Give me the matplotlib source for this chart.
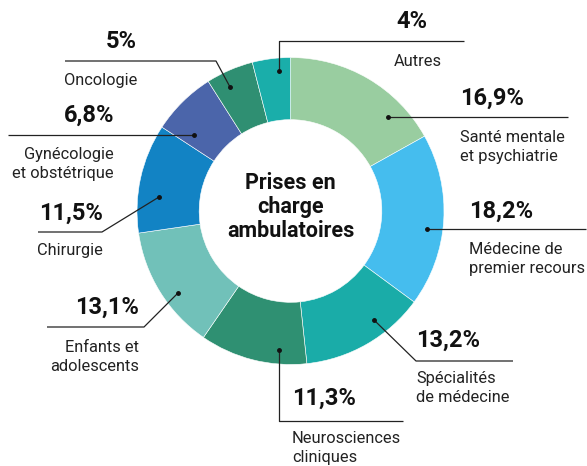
import matplotlib.pyplot as plt
from matplotlib import font_manager

# Data
categories = ['Santé mentale\net psychiatrie', 'Médecine de\npremier recours',
              'Spécialités\nde médecine', 'Neurosciences\ncliniques',
              'Enfants et\nadolescents', 'Chirurgie',
              'Gynécologie\net obstétrique', 'Oncologie', 'Autres']
values = [16.9, 18.2, 13.2, 11.3, 13.1, 11.5, 6.8, 5, 4]
value_labels = ['16,9%', '18,2%', '13,2%', '11,3%', '13,1%', '11,5%', '6,8%', '5%', '4%']
colors = ['#99cda0', '#45bdee', '#1aaca8', '#2f9072', '#71c1b9',
          '#1283c4', '#4b65aa', '#2f8f72', '#1aaeaa']

names = {f.name for f in font_manager.fontManager.ttflist}
font = 'Liberation Sans Narrow' if 'Liberation Sans Narrow' in names else 'Roboto'
plt.rcParams['font.family'] = [font, 'DejaVu Sans']

fig = plt.figure(figsize=(5.87, 4.66), dpi=100)
ax = fig.add_axes([0, 0, 1, 1])

cx, cy, r = 290.5, 211, 153.5
ax.pie(values, colors=colors, center=(cx, cy), radius=r, startangle=-90,
       counterclock=True, wedgeprops=dict(width=r * 0.405, edgecolor='white', linewidth=0.4),
       frame=True)
ax.set_xlim(0, 587)
ax.set_ylim(466, 0)
ax.set_aspect('equal')
ax.axis('off')

ax.text(cx, 207, 'Prises en\ncharge\nambulatoires', ha='center', va='center',
        fontsize=15.5, fontweight='bold', linespacing=1.1, color='#111111')

# leader layout: path points (first is the dot), pct pos, label pos, alignment
layout = [
    dict(path=[(388, 117), (568, 117)], pct=(460, 98), lab=(460, 147), ha='left'),
    dict(path=[(427, 229), (586, 229)], pct=(469, 211), lab=(469, 259), ha='left'),
    dict(path=[(374, 320), (416, 361), (513, 361)], pct=(416, 340), lab=(416, 388), ha='left'),
    dict(path=[(279, 350), (279, 421), (403, 421)], pct=(292, 398), lab=(292, 448), ha='left'),
    dict(path=[(178, 293), (144, 327), (47, 327)], pct=(139, 307), lab=(139, 357), ha='right'),
    dict(path=[(159, 197), (102, 232), (38, 232)], pct=(103, 213), lab=(103, 251), ha='right'),
    dict(path=[(194, 135), (8, 135)], pct=(114, 115), lab=(114, 164), ha='right'),
    dict(path=[(230, 87), (216, 61), (65, 61)], pct=(137, 42), lab=(137, 80), ha='right'),
    dict(path=[(279, 71), (279, 41), (464, 41)], pct=(412, 22), lab=(418, 61), ha='center'),
]

for cat, pl, lay in zip(categories, value_labels, layout):
    xs = [p[0] for p in lay['path']]
    ys = [p[1] for p in lay['path']]
    ax.plot(xs, ys, color='#222222', lw=0.9, solid_capstyle='butt')
    ax.plot(xs[0], ys[0], 'o', color='#111111', ms=2.5)
    ax.text(lay['pct'][0], lay['pct'][1], pl, ha=lay['ha'], va='center',
            fontsize=17, fontweight='bold', color='#111111')
    ax.text(lay['lab'][0], lay['lab'][1], cat, ha=lay['ha'], va='center',
            fontsize=11.8, color='#222222', linespacing=1.38)

fig.savefig('out.png', dpi=100)
